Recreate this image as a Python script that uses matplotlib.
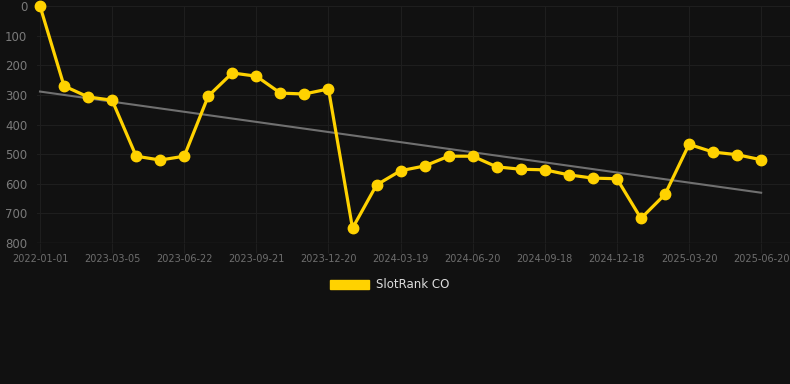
import numpy as np
import matplotlib
matplotlib.use('Agg')
import matplotlib.pyplot as plt
from matplotlib.patches import Patch

# every third date is shown on the axis
tick_labels = ['2022-01-01', '2023-03-05', '2023-06-22', '2023-09-21', '2023-12-20',
               '2024-03-19', '2024-06-20', '2024-09-18', '2024-12-18', '2025-03-20',
               '2025-06-20']
rank = [0, 270, 307, 318, 507, 520, 507, 304, 226, 237, 294, 297, 280, 750, 604,
        556, 540, 507, 507, 543, 551, 553, 570, 581, 583, 717, 636, 467, 493, 502, 519]

bg = '#111111'
gold = '#FFD200'
grid = '#1e1e1e'
txt = '#757575'

fig = plt.figure(figsize=(7.9, 3.84), dpi=100, facecolor=bg)
ax = fig.add_axes([37/790, (384-243)/384, (790-37)/790, (243-6)/384])
ax.set_facecolor(bg)

x = np.arange(len(rank))

# trend line (least squares)
k, b = np.polyfit(x, rank, 1)
ax.plot([x[0], x[-1]], [k*x[0]+b, k*x[-1]+b], color='#707070', lw=1.5, zorder=2)

ax.plot(x, rank, color=gold, lw=2.3, marker='o', markersize=7.5, zorder=3, clip_on=False)

ax.set_ylim(800, 0)
ax.set_xlim(-0.125, 31.2)
ax.set_yticks(range(0, 801, 100))
ax.set_xticks(x[::3])
ax.set_xticklabels(tick_labels)
ax.grid(True, color=grid, lw=0.8)
ax.set_axisbelow(True)
for s in ax.spines.values():
    s.set_visible(False)
ax.axhline(800, color='#262626', lw=1, zorder=1)
ax.tick_params(axis='y', length=0, pad=7, labelsize=8.5, labelcolor='#7a7a7a')
ax.tick_params(axis='x', length=7, color=grid, pad=1, labelsize=7, labelcolor='#6e6e6e')

fig.legend(handles=[Patch(facecolor=gold, edgecolor=gold)], labels=['SlotRank CO'],
           loc='center', bbox_to_anchor=(390/790, 1 - 285/384), frameon=False,
           fontsize=8.5, labelcolor='#dddddd', handlelength=3.3, handleheight=0.85,
           handletextpad=0.6)

fig.savefig('out.png', dpi=100, facecolor=bg)
